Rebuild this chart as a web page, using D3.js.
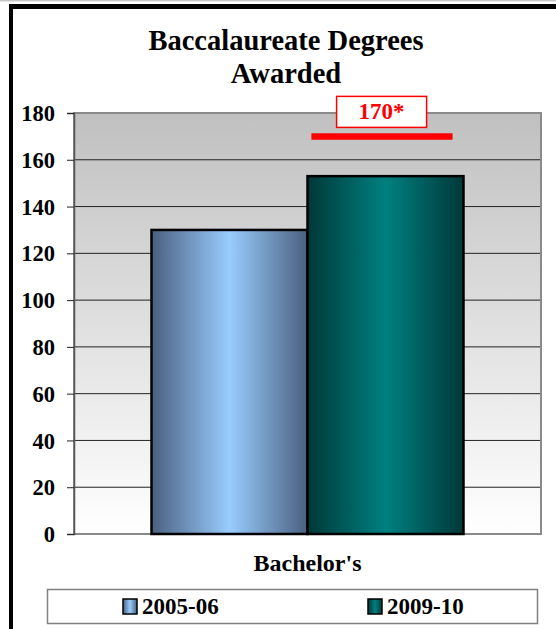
<!DOCTYPE html>
<html>
<head>
<meta charset="utf-8">
<script src="https://cdn.jsdelivr.net/npm/d3@7"></script>
<style>
  html, body { margin: 0; padding: 0; background: #fff; }
  svg { display: block; }
</style>
</head>
<body>
<svg id="chart" width="556" height="629"></svg>
<script>
// Chart data
const categories = ["Bachelor's"];
const seriesNames = ["2005-06", "2009-10"];
const seriesValues = [130, 153];
const yTicks = [0, 20, 40, 60, 80, 100, 120, 140, 160, 180];
const targetValue = 170;
const targetLabel = "170*";
const titleLines = ["Baccalaureate Degrees", "Awarded"];

const FONT = "'Palatino Linotype', 'Book Antiqua', Palatino, 'Liberation Serif', serif";
const seriesColors = [
  { edge: "#4a607f", mid: "#99ccff" },
  { edge: "#003838", mid: "#008080" }
];

const svg = d3.select("#chart");
const W = 556, H = 629;
const plot = { left: 74, right: 541, top: 113, bottom: 534 };

// Gradients
const defs = svg.append("defs");
const bg = defs.append("linearGradient").attr("id", "plotBg")
  .attr("x1", 0).attr("y1", 0).attr("x2", 0).attr("y2", 1);
bg.append("stop").attr("offset", 0).attr("stop-color", "#c0c0c0");
bg.append("stop").attr("offset", 1).attr("stop-color", "#ffffff");

seriesColors.forEach((c, i) => {
  const g = defs.append("linearGradient").attr("id", "barGrad" + i)
    .attr("x1", 0).attr("y1", 0).attr("x2", 1).attr("y2", 0);
  g.append("stop").attr("offset", 0).attr("stop-color", c.edge);
  g.append("stop").attr("offset", 0.5).attr("stop-color", c.mid);
  g.append("stop").attr("offset", 1).attr("stop-color", c.edge);
});

// Outer frame
svg.append("rect").attr("x", 0).attr("y", 0).attr("width", W).attr("height", 1.5).attr("fill", "#c8c8c8");
svg.append("rect").attr("x", 9).attr("y", 4).attr("width", W - 9).attr("height", 5).attr("fill", "#000");
svg.append("rect").attr("x", 9).attr("y", 4).attr("width", 4).attr("height", H - 4).attr("fill", "#000");

// Title
const title = svg.append("text")
  .attr("text-anchor", "middle")
  .attr("font-family", FONT).attr("font-weight", "bold").attr("font-size", 28.5)
  .attr("fill", "#000");
titleLines.forEach((t, i) => {
  title.append("tspan").attr("x", 286).attr("y", 49.5 + i * 33.5).text(t);
});

// Scales
const y = d3.scaleLinear().domain([0, 180]).range([plot.bottom, plot.top]);
const x0 = d3.scaleBand().domain(categories).range([plot.left, plot.right])
  .paddingInner(0).paddingOuter(0.2484);
const x1 = d3.scaleBand().domain(seriesNames).range([0, x0.bandwidth()]).padding(0);

// Plot background
svg.append("rect")
  .attr("x", plot.left).attr("y", plot.top)
  .attr("width", plot.right - plot.left).attr("height", plot.bottom - plot.top)
  .attr("fill", "url(#plotBg)");

// Gridlines
svg.append("g").selectAll("line")
  .data(yTicks.filter(v => v > 0 && v < 180))
  .join("line")
  .attr("x1", plot.left).attr("x2", plot.right)
  .attr("y1", d => y(d)).attr("y2", d => y(d))
  .attr("stroke", "#222").attr("stroke-width", 1);

// Plot border
svg.append("rect")
  .attr("x", plot.left).attr("y", plot.top)
  .attr("width", plot.right - plot.left).attr("height", plot.bottom - plot.top)
  .attr("fill", "none").attr("stroke", "#8a8a8a").attr("stroke-width", 2);

// Y axis
const yAxis = svg.append("g")
  .attr("transform", `translate(${plot.left},0)`)
  .call(d3.axisLeft(y).tickValues(yTicks).tickSize(7).tickPadding(12));
yAxis.select(".domain").attr("stroke", "#555").attr("stroke-width", 1.5);
yAxis.selectAll(".tick line").attr("stroke", "#222");
yAxis.selectAll(".tick text")
  .attr("font-family", FONT).attr("font-weight", "bold").attr("font-size", 22.5)
  .attr("fill", "#000").attr("dy", "0.34em");

// Bars
const group = svg.append("g").selectAll("g")
  .data(categories)
  .join("g")
  .attr("transform", d => `translate(${x0(d)},0)`);
group.selectAll("rect")
  .data(seriesNames.map((s, i) => ({ s, v: seriesValues[i], i })))
  .join("rect")
  .attr("x", d => x1(d.s))
  .attr("y", d => y(d.v))
  .attr("width", x1.bandwidth())
  .attr("height", d => y(0) - y(d.v))
  .attr("fill", d => `url(#barGrad${d.i})`)
  .attr("stroke", "#000").attr("stroke-width", 2.5);

// Target marker on the latest series
const tgtX = x0(categories[0]) + x1(seriesNames[1]);
const tgtW = x1.bandwidth();
svg.append("line")
  .attr("x1", tgtX + tgtW * 0.025).attr("x2", tgtX + tgtW * 0.93)
  .attr("y1", y(targetValue)).attr("y2", y(targetValue))
  .attr("stroke", "#ff0000").attr("stroke-width", 6.5);
const lblCx = tgtX + tgtW * 0.475;
svg.append("rect")
  .attr("x", lblCx - 45).attr("y", y(targetValue) - 40)
  .attr("width", 90).attr("height", 31)
  .attr("fill", "#fff").attr("stroke", "#ff0000").attr("stroke-width", 1.5);
svg.append("text")
  .attr("x", lblCx).attr("y", y(targetValue) - 17)
  .attr("text-anchor", "middle")
  .attr("font-family", FONT).attr("font-weight", "bold").attr("font-size", 23)
  .attr("fill", "#ff0000").text(targetLabel);

// Category label
svg.append("text")
  .attr("x", x0(categories[0]) + x0.bandwidth() / 2).attr("y", 571)
  .attr("text-anchor", "middle")
  .attr("font-family", FONT).attr("font-weight", "bold").attr("font-size", 24)
  .attr("fill", "#000").text(categories[0]);

// Legend
svg.append("rect")
  .attr("x", 47.5).attr("y", 589.5).attr("width", 490).attr("height", 34)
  .attr("fill", "#fff").attr("stroke", "#808080").attr("stroke-width", 1.5);
const legendX = [123, 368];
const legend = svg.append("g").selectAll("g")
  .data(seriesNames)
  .join("g")
  .attr("transform", (d, i) => `translate(${legendX[i]},599)`);
legend.append("rect")
  .attr("width", 14).attr("height", 15)
  .attr("fill", (d, i) => `url(#barGrad${i})`)
  .attr("stroke", "#000").attr("stroke-width", 1.5);
legend.append("text")
  .attr("x", 19).attr("y", 15)
  .attr("font-family", FONT).attr("font-weight", "bold").attr("font-size", 23)
  .attr("fill", "#000").text(d => d);
</script>
</body>
</html>
